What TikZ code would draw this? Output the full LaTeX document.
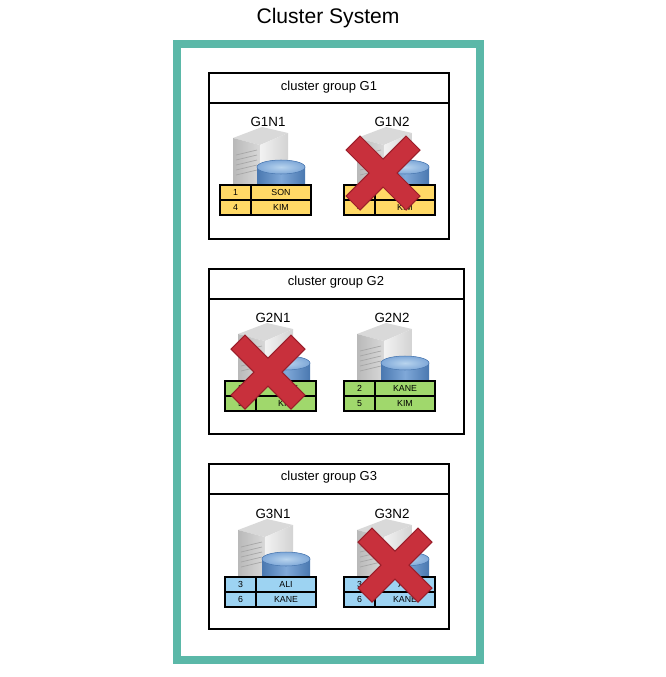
\documentclass[tikz,border=0pt]{standalone}
\usepackage{fontspec}
\setmainfont{Liberation Sans}
\begin{document}
\definecolor{teal}{HTML}{5BB8A8}
\definecolor{yel}{HTML}{FFD966}
\definecolor{grn}{HTML}{A0D86C}
\definecolor{blu}{HTML}{9DD3F2}
\definecolor{xred}{HTML}{C8303C}
\definecolor{xdark}{HTML}{9A1E2A}
\definecolor{cyld}{HTML}{4A78B0}
\definecolor{cylm}{HTML}{7FA8D8}
\definecolor{cyll}{HTML}{B8D4EE}
\newcommand\srv[8]{%
\begin{scope}[shift={(#1,#2)}]
 \fill[gray!30] (13,-47)--(40,-40)--(68,-52)--(42,-58)--cycle;
 \shade[left color=gray!55,right color=gray!30] (13,-47)--(40,-40)--(40,0)--(13,0)--cycle;
 \shade[left color=gray!10,right color=gray!35] (40,-40)--(68,-52)--(68,0)--(40,0)--cycle;
 \foreach \v in {-32,-27,-22,-17,-12} \draw[gray!70,line width=0.4pt] (16,\v+2)--(37,\v-3);
 \shade[left color=cyld,right color=cyld,middle color=cylm] (37,-18) -- (37,0) -- (85,0) -- (85,-18) arc (0:-180:24 and 7);
 \shade[inner color=cyll,outer color=cylm] (61,-18) ellipse (24 and 7);
 \draw[cyld,line width=0.3pt] (61,-18) ellipse (24 and 7);
 \draw[line width=1.2pt,fill=#3] (0,0) rectangle (91,30);
 \draw[line width=1.2pt] (0,15)--(91,15) (31,0)--(31,30);
 \node[font=\fontsize{5}{6}\selectfont] at (15.5,7.5) {#4};
 \node[font=\fontsize{5}{6}\selectfont] at (61,7.5) {#5};
 \node[font=\fontsize{5}{6}\selectfont] at (15.5,22.5) {#6};
 \node[font=\fontsize{5}{6}\selectfont] at (61,22.5) {#7};
 \node[font=\fontsize{7.6}{9}\selectfont] at (48,-63) {#8};
\end{scope}}
\newcommand\xmark[2]{%
\fill[xred,draw=xdark,line width=0.6pt,shift={(#1,#2)}]
 (-37,-23)--(-23,-37)--(0,-14)--(23,-37)--(37,-23)--(14,0)--(37,23)--(23,37)--(0,14)--(-23,37)--(-37,23)--(-14,0)--cycle;}
\begin{tikzpicture}[x=0.02cm,y=-0.02cm,grp/.style={draw,line width=1pt,fill=white},
 gt/.style={font=\fontsize{7.4}{9}\selectfont}]
\useasboundingbox (0,0) rectangle (666,677);
\node[font=\fontsize{12}{14}\selectfont] (title) at (328,18) {Cluster System};
\draw[teal,line width=4pt] (177,44) rectangle (480,660);
% G1
\draw[grp] (209,73) rectangle (449,239); \draw[line width=1pt] (209,103)--(449,103);
\node[gt] at (329,87) {cluster group G1};
\srv{220}{185}{yel}{1}{SON}{4}{KIM}{G1N1}
\srv{344}{185}{yel}{1}{SON}{4}{KIM}{G1N2}
\xmark{383}{173}
% G2
\draw[grp] (209,269) rectangle (464,434); \draw[line width=1pt] (209,299)--(464,299);
\node[gt] at (336,282) {cluster group G2};
\srv{225}{381}{grn}{2}{KANE}{5}{KIM}{G2N1}
\srv{344}{381}{grn}{2}{KANE}{5}{KIM}{G2N2}
\xmark{268}{372}
% G3
\draw[grp] (209,464) rectangle (449,629); \draw[line width=1pt] (209,494)--(449,494);
\node[gt] at (329,477) {cluster group G3};
\srv{225}{577}{blu}{3}{ALI}{6}{KANE}{G3N1}
\srv{344}{577}{blu}{3}{ALI}{6}{KANE}{G3N2}
\xmark{395}{565}
\end{tikzpicture}
\end{document}
